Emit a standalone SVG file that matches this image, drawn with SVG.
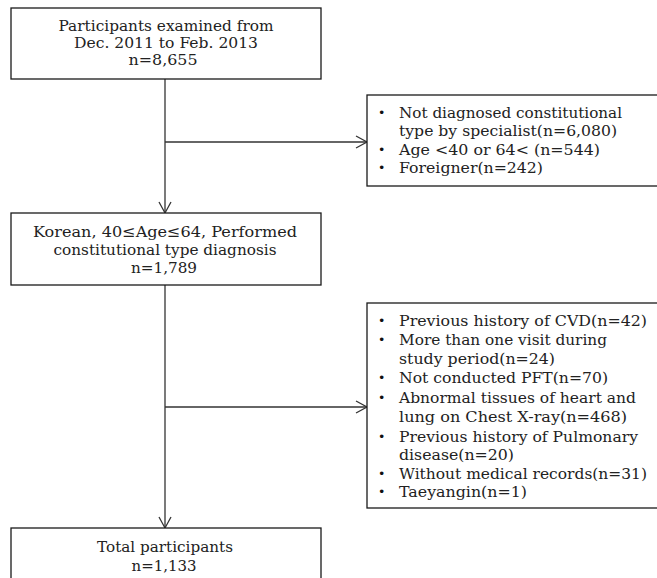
<svg xmlns="http://www.w3.org/2000/svg" width="657" height="578" viewBox="0 0 657 578">
<defs>
<style>
.box{fill:#fff;stroke:#1a1a1a;stroke-width:1.3}
.t{font-family:"DejaVu Serif","Liberation Serif",serif;font-size:15.5px;fill:#222}
.b{font-family:"DejaVu Sans","Liberation Sans",sans-serif;font-size:12.5px;fill:#111}
.c{text-anchor:middle}
.ln{stroke:#333;stroke-width:1.3;fill:none}
</style>
<marker id="ah" markerUnits="userSpaceOnUse" markerWidth="14" markerHeight="14" viewBox="0 0 14 14" refX="12" refY="7" orient="auto">
<path d="M1,1 L12,7 L1,13" fill="none" stroke="#333" stroke-width="1.3"/>
</marker>
</defs>
<rect width="657" height="578" fill="#fff"/>
<g id="connectors">
<line class="ln" x1="165" y1="79" x2="165" y2="213" marker-end="url(#ah)"/>
<line class="ln" x1="165" y1="142" x2="367" y2="142" marker-end="url(#ah)"/>
<line class="ln" x1="165" y1="285" x2="165" y2="528" marker-end="url(#ah)"/>
<line class="ln" x1="165" y1="407" x2="367" y2="407" marker-end="url(#ah)"/>
</g>
<g id="n1">
<rect class="box" x="11" y="8" width="310" height="71"/>
<text class="t c" x="166" y="31" textLength="215" lengthAdjust="spacingAndGlyphs">Participants examined from</text>
<text class="t c" x="166" y="48" textLength="184" lengthAdjust="spacingAndGlyphs">Dec. 2011 to Feb. 2013</text>
<text class="t c" x="163" y="65" textLength="69" lengthAdjust="spacingAndGlyphs">n=8,655</text>
</g>
<g id="n2">
<rect class="box" x="367" y="95" width="300" height="91"/>
<text class="b" x="378" y="117">•</text>
<text class="t" x="399" y="118" textLength="223" lengthAdjust="spacingAndGlyphs">Not diagnosed constitutional</text>
<text class="t" x="399" y="136" textLength="218" lengthAdjust="spacingAndGlyphs">type by specialist(n=6,080)</text>
<text class="b" x="378" y="154">•</text>
<text class="t" x="399" y="155" textLength="201" lengthAdjust="spacingAndGlyphs">Age &lt;40 or 64&lt; (n=544)</text>
<text class="b" x="378" y="172">•</text>
<text class="t" x="399" y="173" textLength="144" lengthAdjust="spacingAndGlyphs">Foreigner(n=242)</text>
</g>
<g id="n3">
<rect class="box" x="11" y="213" width="310" height="72"/>
<text class="t c" x="165" y="237" textLength="264" lengthAdjust="spacingAndGlyphs">Korean, 40≤Age≤64, Performed</text>
<text class="t c" x="165" y="255" textLength="223" lengthAdjust="spacingAndGlyphs">constitutional type diagnosis</text>
<text class="t c" x="164" y="273" textLength="66" lengthAdjust="spacingAndGlyphs">n=1,789</text>
</g>
<g id="n4">
<rect class="box" x="367" y="303" width="300" height="205"/>
<text class="b" x="378" y="325">•</text>
<text class="t" x="399" y="326" textLength="248" lengthAdjust="spacingAndGlyphs">Previous history of CVD(n=42)</text>
<text class="b" x="378" y="344">•</text>
<text class="t" x="399" y="345" textLength="208" lengthAdjust="spacingAndGlyphs">More than one visit during</text>
<text class="t" x="399" y="364" textLength="156" lengthAdjust="spacingAndGlyphs">study period(n=24)</text>
<text class="b" x="378" y="382">•</text>
<text class="t" x="399" y="383" textLength="209" lengthAdjust="spacingAndGlyphs">Not conducted PFT(n=70)</text>
<text class="b" x="378" y="402">•</text>
<text class="t" x="399" y="403" textLength="237" lengthAdjust="spacingAndGlyphs">Abnormal tissues of heart and</text>
<text class="t" x="399" y="422" textLength="228" lengthAdjust="spacingAndGlyphs">lung on Chest X-ray(n=468)</text>
<text class="b" x="378" y="441">•</text>
<text class="t" x="399" y="442" textLength="239" lengthAdjust="spacingAndGlyphs">Previous history of Pulmonary</text>
<text class="t" x="399" y="460" textLength="115" lengthAdjust="spacingAndGlyphs">disease(n=20)</text>
<text class="b" x="378" y="478">•</text>
<text class="t" x="399" y="479" textLength="248" lengthAdjust="spacingAndGlyphs">Without medical records(n=31)</text>
<text class="b" x="378" y="496">•</text>
<text class="t" x="399" y="497" textLength="128" lengthAdjust="spacingAndGlyphs">Taeyangin(n=1)</text>
</g>
<g id="n5">
<rect class="box" x="11" y="528" width="310" height="70"/>
<text class="t c" x="165" y="552" textLength="136" lengthAdjust="spacingAndGlyphs">Total participants</text>
<text class="t c" x="164" y="571" textLength="65" lengthAdjust="spacingAndGlyphs">n=1,133</text>
</g>
</svg>
